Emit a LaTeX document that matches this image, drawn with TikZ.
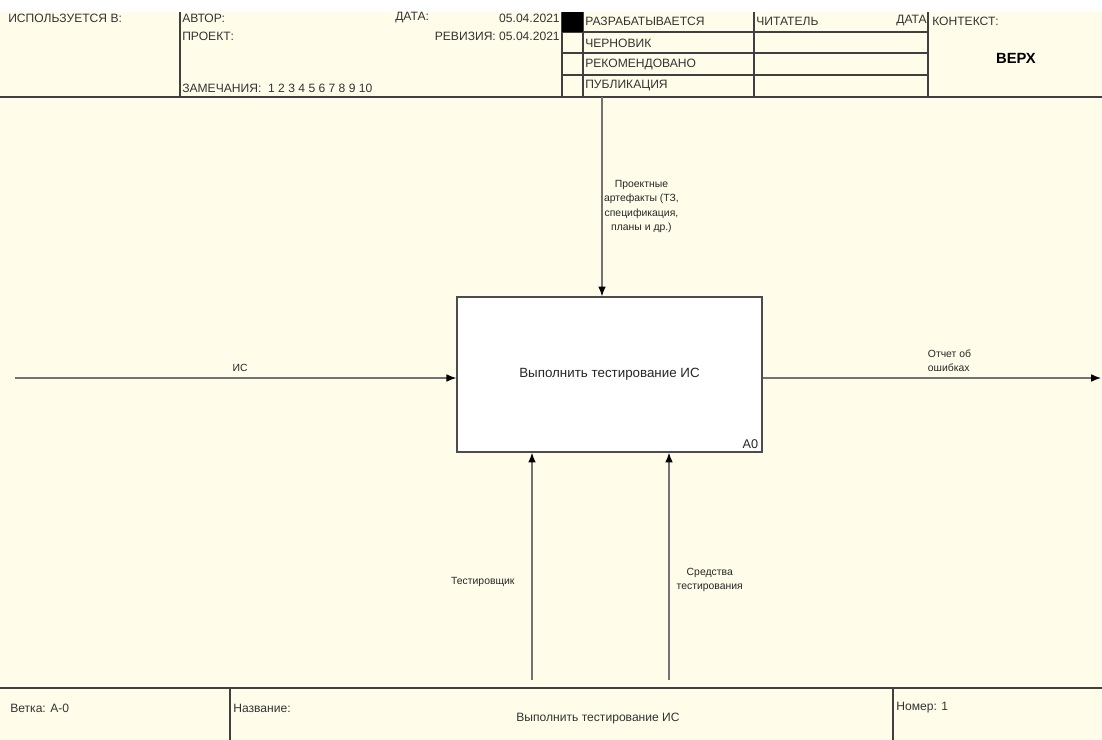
\documentclass[tikz,border=0pt]{standalone}
\usepackage{fontspec}
\setmainfont{Liberation Sans}
\usetikzlibrary{arrows.meta, positioning}
\definecolor{paper}{RGB}{255,253,234}

\begin{document}
\begin{tikzpicture}[
        x=0.025cm, y=-0.025cm,
        frame/.style={draw=black!75, line width=0.8pt},
        hdr/.style={anchor=west, inner sep=0pt, font=\fontsize{8.6}{10}\selectfont, text=black!80},
        func/.style={rectangle, draw=black!70, fill=white, line width=0.9pt, minimum width=7.625cm, minimum height=3.875cm, font=\fontsize{9.5}{11}\selectfont, text=black!85},
        lbl/.style={font=\fontsize{7.4}{10.3}\selectfont, align=center, text=black!85, inner sep=1pt},
        arrow/.style={-{Latex[length=7pt, width=5.5pt, color=black]}, draw=black!55, line width=0.9pt}
    ]
        \useasboundingbox (0,0) rectangle (1102,740);
        \fill[white] (0,0) rectangle (1102,12);
        \fill[paper] (0,12) rectangle (1102,740);

        % header
        \draw[frame] (0,97) -- (1102,97);
        \foreach \xv in {180,562,583,754,928}
            \draw[frame] (\xv,12) -- (\xv,97);
        \foreach \yv in {32,53,75}
            \draw[frame] (562,\yv) -- (928,\yv);
        \fill[black] (562,12) rectangle (583,32);

        \node[hdr] (usedat) at (8,18) {ИСПОЛЬЗУЕТСЯ В:};
        \node[hdr] (author) at (182,18) {АВТОР:};
        \node[hdr] (project) at (182,36) {ПРОЕКТ:};
        \node[hdr] (notes) at (182,88) {ЗАМЕЧАНИЯ:\ \ 1 2 3 4 5 6 7 8 9 10};
        \node[hdr] (date) at (395,18) {ДАТА:};
        \node[hdr, anchor=east] (dateval) at (560,18) {05.04.2021};
        \node[hdr, anchor=east] (rev) at (560,36) {РЕВИЗИЯ: 05.04.2021};
        \node[hdr] (working) at (585,21) {РАЗРАБАТЫВАЕТСЯ};
        \node[hdr] (draft) at (585,43) {ЧЕРНОВИК};
        \node[hdr] (recom) at (585,64) {РЕКОМЕНДОВАНО};
        \node[hdr] (publ) at (585,86) {ПУБЛИКАЦИЯ};
        \node[hdr] (reader) at (756,21) {ЧИТАТЕЛЬ};
        \node[hdr, anchor=east] (rdate) at (927,21) {ДАТА};
        \node[hdr] (context) at (932,21) {КОНТЕКСТ:};
        \node[hdr, anchor=center, font=\fontsize{10.5}{12}\selectfont\bfseries, text=black] (top) at (1016,58) {ВЕРХ};

        % function block
        \node[func] (a0) at (609.5,374.5) {Выполнить тестирование ИС};
        \node[lbl, anchor=south east, font=\fontsize{9}{10}\selectfont, inner sep=3pt] (a0num) at (a0.south east) {A0};

        \coordinate (src) at (15,378);
        \coordinate (sink) at (1101,378);
        \coordinate (ctl) at (602,97);
        \coordinate (mech1) at (532,680);
        \coordinate (mech2) at (669,680);

        \draw[arrow] (src) -- node[lbl, above, pos=0.51, inner sep=4pt] (l_in) {ИС} (src -| a0.west);
        \draw[arrow] (a0.east |- sink) -- node[lbl, above right, pos=0.47, align=left, inner sep=4pt] (l_out) {Отчет об\\ошибках} (sink);
        \draw[arrow] (ctl) -- node[lbl, right, pos=0.55] (l_ctl) {Проектные\\артефакты (ТЗ,\\спецификация,\\планы и др.)} (ctl |- a0.north);
        \draw[arrow] (mech1) -- node[lbl, left, pos=0.43, xshift=-11pt] (l_m1) {Тестировщик} (mech1 |- a0.south);
        \draw[arrow] (mech2) -- node[lbl, right, pos=0.44, xshift=4pt] (l_m2) {Средства\\тестирования} (mech2 |- a0.south);

        % footer
        \draw[frame] (0,688) -- (1102,688);
        \draw[frame] (230,688) -- (230,740);
        \draw[frame] (893,688) -- (893,740);
        \node[hdr] (branch) at (10,708) {Ветка: А-0};
        \node[hdr] (title) at (233,708) {Название:};
        \node[hdr, anchor=center] (titleval) at (598,719) {Выполнить тестирование ИС};
        \node[hdr] (number) at (896,708) {Номер: 1};
    \end{tikzpicture}
\end{document}
